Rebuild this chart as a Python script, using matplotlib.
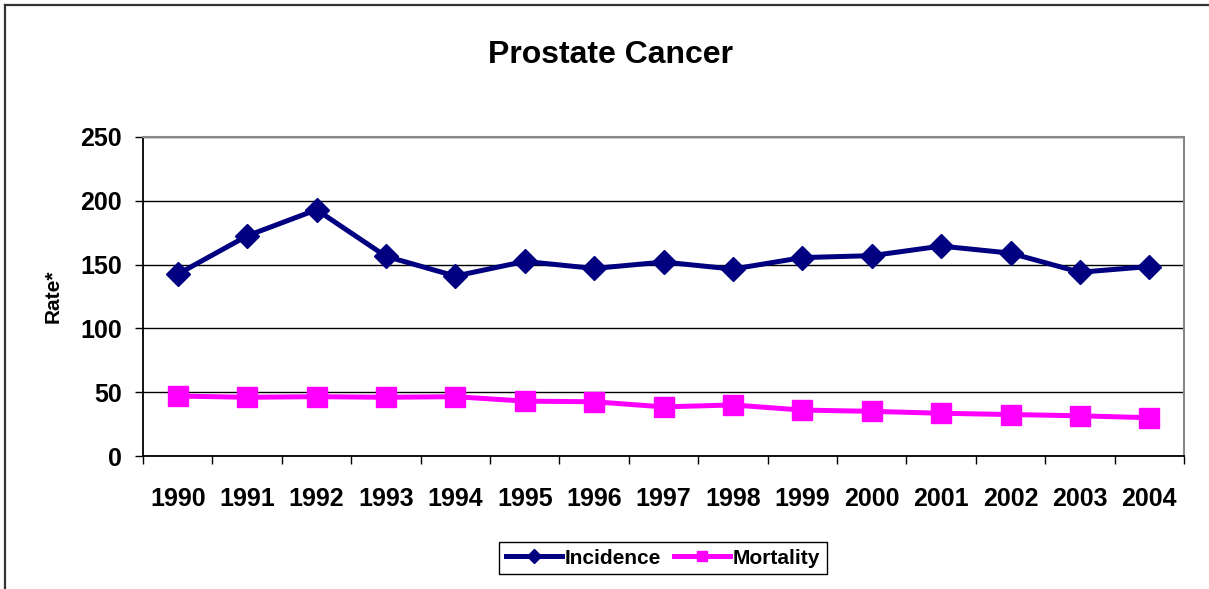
"""Prostate cancer incidence and mortality rates, 1990-2004."""
import matplotlib

matplotlib.use("Agg")
import matplotlib.pyplot as plt
from matplotlib.lines import Line2D

plt.rcParams["font.family"] = ["Liberation Sans", "DejaVu Sans"]
plt.rcParams["font.weight"] = "bold"

years = ["1990", "1991", "1992", "1993", "1994", "1995", "1996", "1997",
         "1998", "1999", "2000", "2001", "2002", "2003", "2004"]
incidence = [142.5, 172.5, 193, 156.5, 141, 152.5, 147, 152, 146.5,
             155.5, 157, 164.5, 159, 144, 148.5]
mortality = [47, 46, 46.5, 46, 46.5, 43, 42.5, 38.5, 40, 36, 35, 33.5,
             32.5, 31.5, 30]
y_ticks = [0, 50, 100, 150, 200, 250]

W, H = 1209, 589
fig = plt.figure(figsize=(W / 100, H / 100), dpi=100)

# outer chart-area frame (only left and top edges show in the reference)
fig.add_artist(Line2D([5 / W, 5 / W], [0, 1 - 5 / H], transform=fig.transFigure,
                      color="#333333", lw=1.6))
fig.add_artist(Line2D([5 / W, 1], [1 - 5 / H, 1 - 5 / H], transform=fig.transFigure,
                      color="#333333", lw=1.6))

ax = fig.add_axes([143 / W, 1 - 456 / H, (1184 - 143) / W, (456 - 137) / H])
x = list(range(len(years)))

ax.plot(x, incidence, color="#000080", lw=3.6, marker="D", ms=12.5,
        mec="#000080", label="Incidence", zorder=3)
ax.plot(x, mortality, color="#FF00FF", lw=3.6, marker="s", ms=14,
        mec="#FF00FF", label="Mortality", zorder=3)

ax.set_xlim(-0.5, len(years) - 0.5)
ax.set_ylim(0, 250)
ax.set_yticks(y_ticks)
ax.set_yticklabels([str(v) for v in y_ticks], fontsize=18, fontweight="bold")
ax.set_xticks(x)
ax.set_xticklabels(years, fontsize=18, fontweight="bold")
ax.set_xticks([i - 0.5 for i in range(len(years) + 1)], minor=True)
ax.tick_params(axis="x", which="major", length=0, pad=22)
ax.tick_params(axis="x", which="minor", length=6, direction="out", width=1)
ax.tick_params(axis="y", which="major", length=6, direction="out", width=1, pad=9)

ax.grid(axis="y", color="black", lw=1)
ax.set_axisbelow(True)
for side in ("top", "right"):
    ax.spines[side].set_color("#888888")
    ax.spines[side].set_linewidth(1.5)
for side in ("left", "bottom"):
    ax.spines[side].set_color("black")
    ax.spines[side].set_linewidth(1.3)

ax.set_ylabel("Rate*", fontsize=15, fontweight="bold")
ax.yaxis.set_label_coords(-0.077, 0.5)

fig.text(610 / W, 1 - 55 / H, "Prostate Cancer", ha="center", va="center",
         fontsize=23, fontweight="bold")

handles, labels = ax.get_legend_handles_labels()
leg = fig.legend(handles, labels, loc="center", ncol=2,
                 bbox_to_anchor=(663 / W, 1 - 558 / H),
                 prop={"weight": "bold", "size": 15}, markerscale=0.55,
                 fancybox=False, edgecolor="black", framealpha=1,
                 handlelength=2.7, handletextpad=0.15, columnspacing=0.6,
                 borderpad=0.3, borderaxespad=0)
leg.get_frame().set_linewidth(1.0)

fig.savefig("out.png", dpi=100)
